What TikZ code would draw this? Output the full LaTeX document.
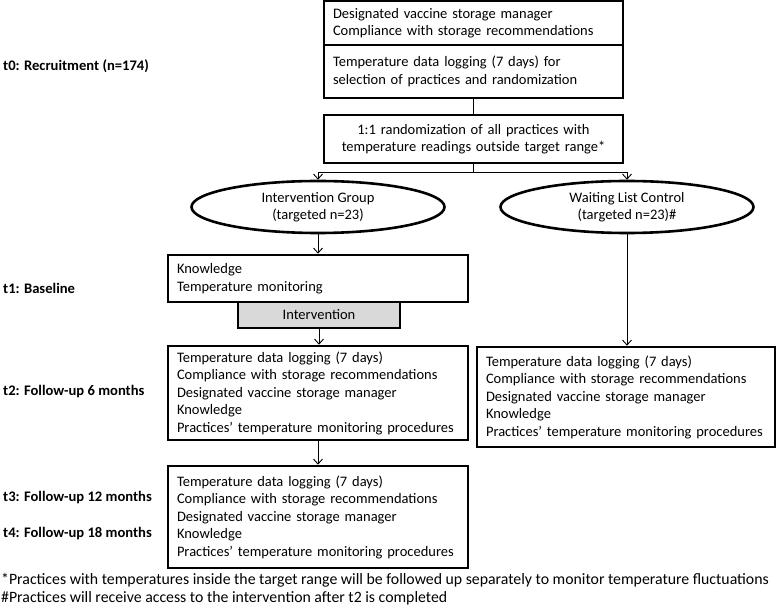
\documentclass[tikz,border=0pt]{standalone}
\usepackage{fontspec}
\setmainfont{Carlito}
\usetikzlibrary{arrows.meta,shapes.geometric}
\begin{document}
\begin{tikzpicture}[x=1pt,y=-1pt,
  font=\fontsize{14.5}{17.5}\selectfont,
  box/.style={draw, line width=2.6pt, rectangle, inner xsep=9pt, inner ysep=0pt, align=left},
  cbox/.style={draw, line width=2.6pt, rectangle, inner xsep=6pt, inner ysep=0pt, align=center},
  oval/.style={draw, line width=2.6pt, ellipse, minimum width=253pt, minimum height=52pt, inner sep=0pt, align=center},
  conn/.style={line width=0.9pt},
  arr/.style={line width=0.9pt, -{Straight Barb[length=5pt,width=9pt]}},
  lab/.style={anchor=west, inner sep=0pt, font=\fontsize{14.6}{17}\selectfont\bfseries},
  foot/.style={anchor=west, inner sep=0pt, font=\fontsize{15.8}{17}\selectfont}
]
\useasboundingbox (0,0) rectangle (778,609);

% top boxes
\node[box, text width=281pt, minimum height=44pt] (b1) at (473.5,23)
  {Designated vaccine storage manager\\Compliance with storage recommendations};
\node[box, text width=281pt, minimum height=53pt] (b2) at (473.5,71.5)
  {Temperature data logging (7 days) for\\selection of practices and randomization};
\node[cbox, text width=287pt, minimum height=48pt] (rand) at (473.5,139)
  {1:1 randomization of all practices with\\temperature readings outside target range*};

% ellipses
\node[oval] (ig) at (318,207) {Intervention Group\\(targeted n=23)};
\node[oval] (wl) at (627,207) {Waiting List Control\\(targeted n=23)\#};

% left column
\node[box, text width=282pt, minimum height=47pt] (know) at (318,278.5)
  {Knowledge\\Temperature monitoring};
\node[cbox, fill=black!15, minimum width=162pt, minimum height=26pt] (int) at (319,315) {Intervention};
\node[box, text width=282pt, minimum height=94pt] (t2) at (318,393)
  {Temperature data logging (7 days)\\Compliance with storage recommendations\\Designated vaccine storage manager\\Knowledge\\Practices’ temperature monitoring procedures};
\node[box, text width=282pt, minimum height=102pt] (t3) at (318,517)
  {Temperature data logging (7 days)\\Compliance with storage recommendations\\Designated vaccine storage manager\\Knowledge\\Practices’ temperature monitoring procedures};

% right column
\node[box, text width=280pt, minimum height=100pt] (r2) at (626,397)
  {Temperature data logging (7 days)\\Compliance with storage recommendations\\Designated vaccine storage manager\\Knowledge\\Practices’ temperature monitoring procedures};

% connectors
\draw[conn] (b2.south) -- (rand.north);
\coordinate (br) at (473.5,172);
\draw[conn] (rand.south) -- (br);
\draw[arr] (br) -| (ig.north);
\draw[arr] (br) -| (wl.north);
\draw[arr] (ig.south) -- (ig.south |- know.north);
\draw[arr] (int.south) -- (int.south |- t2.north);
\draw[arr] (t2.south) -- (t3.north);
\draw[arr] (wl.south) -- (wl.south |- r2.north);

% time labels
\node[lab] (l0) at (3,66) {t0: Recruitment (n=174)};
\node[lab] (l1) at (3,288) {t1: Baseline};
\node[lab] (l2) at (3,392) {t2: Follow-up 6 months};
\node[lab] (l3) at (3,498) {t3: Follow-up 12 months};
\node[lab] (l4) at (3,534) {t4: Follow-up 18 months};

% footnotes
\node[foot] (f1) at (1,580) {*Practices with temperatures inside the target range will be followed up separately to monitor temperature fluctuations};
\node[foot] (f2) at (1,598) {\#Practices will receive access to the intervention after t2 is completed};
\end{tikzpicture}
\end{document}
